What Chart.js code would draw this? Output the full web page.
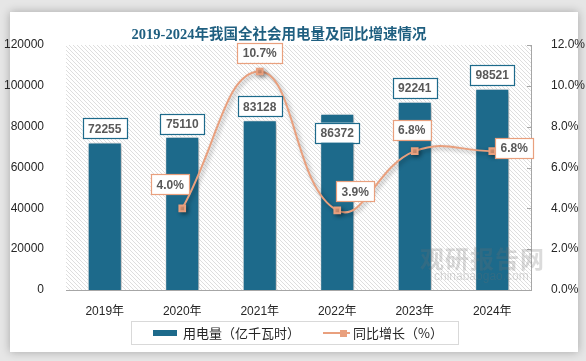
<!DOCTYPE html>
<html>
<head>
<meta charset="utf-8">
<script src="https://cdn.jsdelivr.net/npm/chart.js@4"></script>
<style>
  body { margin: 0; width: 586px; height: 361px; overflow: hidden; position: relative; background: #e6e6e6;
         font-family: "Liberation Sans", Arial, "Noto Sans CJK SC", sans-serif; }
  #card { position: absolute; left: 10px; top: 12px; width: 568px; height: 340px; background: #fff;
          box-shadow: 0 0 9px rgba(0,0,0,0.28); }
  #chart { position: absolute; left: 0; top: 0; }
  #title { position: absolute; left: 0; width: 558px; top: 22px; text-align: center; color: #1f5f80;
           font: bold 14.5px "Liberation Serif", "Noto Sans CJK SC", serif; }
  #legend { position: absolute; left: 131px; top: 321px; width: 326px; height: 22px; border: 1px solid #d9d9d9;
            font: 13px "Noto Sans CJK SC", sans-serif; color: #262626; }
  .item { position: absolute; top: 0; height: 22px; line-height: 22px; white-space: nowrap; }
  .sw-bar { position: absolute; width: 24px; height: 6px; background: #1d6a8b; top: 8px; }
  .sw-line { position: absolute; width: 27px; height: 2px; background: #e9a07e; top: 10px; }
  .sw-dot { position: absolute; width: 7px; height: 7px; background: #e9a07e; top: 7.5px; }
  #wm { position: absolute; left: 420px; top: 240px; color: rgba(110,110,110,0.25); pointer-events: none; }
  #wm .big { font: bold 24px "Noto Sans CJK SC", sans-serif; letter-spacing: 1px; }
  #wm .small { font: 12px "Liberation Sans", Arial, sans-serif; margin-top: -6px; margin-left: 14px; }
</style>
</head>
<body>
<div id="card"></div>
<canvas id="chart" width="586" height="361"></canvas>
<div id="title">2019-2024年我国全社会用电量及同比增速情况</div>
<div id="wm"><div class="big">观研报告网</div><div class="small">chinabaogao.com</div></div>
<div id="legend">
  <div class="item" style="left:21px"><span class="sw-bar" style="left:0"></span><span style="margin-left:30px">用电量（亿千瓦时）</span></div>
  <div class="item" style="left:191px"><span class="sw-line" style="left:0"></span><span class="sw-dot" style="left:17px"></span><span style="margin-left:30px">同比增长（%）</span></div>
</div>
<script>
const years = ["2019年", "2020年", "2021年", "2022年", "2023年", "2024年"];
const usage = [72255, 75110, 83128, 86372, 92241, 98521];
const growth = [null, 4.0, 10.7, 3.9, 6.8, 6.8];

const leftTicks = { min: 0, max: 120000, step: 20000 };
const rightTicks = { min: 0, max: 12, step: 2 };

// label placement relative to bar top / line point
const barLabelDy = [-14, -13, -14, 19, -14, -14];
const lineLabelOffset = [null, [-12, -24], [0, -19], [18, -19], [-3, -21], [22, -3]];

const teal = "#1d6a8b";
const orange = "#e9a07e";

function hatch() {
  const c = document.createElement("canvas");
  c.width = 4; c.height = 4;
  const g = c.getContext("2d");
  g.fillStyle = "#fff";
  g.fillRect(0, 0, 4, 4);
  g.strokeStyle = "#dedede";
  g.lineWidth = 1;
  g.beginPath();
  g.moveTo(-1, -1); g.lineTo(5, 5);
  g.moveTo(-1, 3); g.lineTo(1, 5);
  g.moveTo(3, -1); g.lineTo(5, 1);
  g.stroke();
  return c;
}

function drawBox(ctx, text, cx, cy, border) {
  const w = ctx.measureText(text).width + 11;
  const h = 20;
  ctx.fillStyle = "#fff";
  ctx.fillRect(cx - w / 2, cy - h / 2, w, h);
  ctx.strokeStyle = border;
  ctx.lineWidth = 1.2;
  ctx.strokeRect(Math.round(cx - w / 2) + 0.5, Math.round(cy - h / 2) + 0.5, Math.round(w), h);
  ctx.fillStyle = "#595959";
  ctx.fillText(text, cx, cy + 1);
}

const bgPlugin = {
  id: "bg",
  beforeDatasetsDraw(chart) {
    const { ctx, chartArea: a } = chart;
    ctx.save();
    ctx.fillStyle = ctx.createPattern(hatch(), "repeat");
    ctx.fillRect(a.left, a.top, a.right - a.left, a.bottom - a.top);
    // small ticks on the inner side of the right axis
    const y1 = chart.scales.y1;
    ctx.strokeStyle = "#a6a6a6";
    ctx.lineWidth = 1;
    ctx.beginPath();
    for (let v = rightTicks.min; v <= rightTicks.max; v += rightTicks.step) {
      const y = Math.round(y1.getPixelForValue(v)) + 0.5;
      ctx.moveTo(a.right - 4, y); ctx.lineTo(a.right, y);
    }
    ctx.stroke();
    ctx.restore();
  },
  beforeDatasetDraw(chart, args) {
    const ctx = chart.ctx;
    ctx.save();
    ctx.shadowColor = "rgba(0,0,0,0.35)";
    ctx.shadowBlur = args.index === 1 ? 6 : 4;
    ctx.shadowOffsetX = 2;
    ctx.shadowOffsetY = 2;
  },
  afterDatasetDraw(chart) {
    chart.ctx.restore();
  },
  afterDatasetsDraw(chart) {
    const ctx = chart.ctx;
    ctx.save();
    ctx.font = 'bold 12px "Liberation Sans", Arial, sans-serif';
    ctx.textAlign = "center";
    ctx.textBaseline = "middle";
    chart.getDatasetMeta(1).data.forEach((bar, i) => {
      drawBox(ctx, String(usage[i]), bar.x, bar.y + barLabelDy[i], teal);
    });
    chart.getDatasetMeta(0).data.forEach((pt, i) => {
      if (growth[i] == null) return;
      const [dx, dy] = lineLabelOffset[i];
      drawBox(ctx, growth[i].toFixed(1) + "%", pt.x + dx, pt.y + dy, orange);
    });
    ctx.restore();
  }
};

new Chart(document.getElementById("chart"), {
  data: {
    labels: years,
    datasets: [
      {
        type: "line",
        label: "同比增长（%）",
        data: growth,
        yAxisID: "y1",
        borderColor: orange,
        borderWidth: 2,
        tension: 0.45,
        pointStyle: "rect",
        pointRadius: 4,
        pointBackgroundColor: orange,
        pointBorderColor: orange,
        order: 0,
      },
      {
        type: "bar",
        label: "用电量（亿千瓦时）",
        data: usage,
        yAxisID: "y",
        backgroundColor: teal,
        borderColor: "#fff",
        borderWidth: 1,
        categoryPercentage: 1,
        barPercentage: 0.44,
        order: 1,
      },
    ],
  },
  options: {
    responsive: false,
    animation: false,
    layout: { padding: { top: 45, left: 0, right: 0, bottom: 41 } },
    plugins: { legend: { display: false }, tooltip: { enabled: false } },
    scales: {
      x: {
        grid: { display: false },
        border: { color: "#a6a6a6" },
        ticks: { color: "#262626", font: { size: 12, family: '"Liberation Sans", Arial, "Noto Sans CJK SC"' }, padding: 6 },
        afterFit: (s) => { s.height = 30; },
      },
      y: {
        position: "left",
        min: leftTicks.min,
        max: leftTicks.max,
        grid: { display: false },
        border: { display: false },
        ticks: {
          stepSize: leftTicks.step,
          color: "#262626",
          font: { size: 12, family: '"Liberation Sans", Arial' },
          padding: 14,
          callback: (v) => String(v),
        },
        afterFit: (s) => { s.width = 66; },
      },
      y1: {
        position: "right",
        min: rightTicks.min,
        max: rightTicks.max,
        grid: { display: false },
        border: { color: "#a6a6a6" },
        ticks: {
          stepSize: rightTicks.step,
          color: "#262626",
          font: { size: 12, family: '"Liberation Sans", Arial' },
          padding: 12,
          callback: (v) => v.toFixed(1) + "%",
        },
        afterFit: (s) => { s.width = 55; },
      },
    },
  },
  plugins: [bgPlugin],
});
</script>
</body>
</html>
